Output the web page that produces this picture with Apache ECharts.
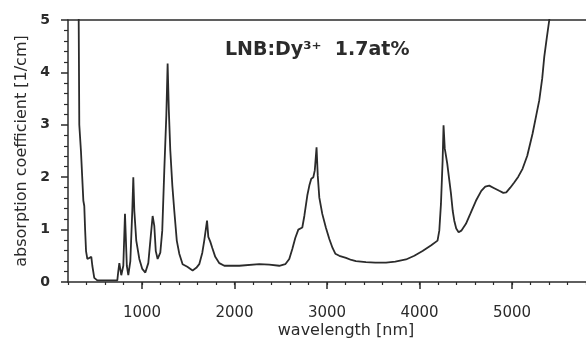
<!DOCTYPE html>
<html>
<head>
<meta charset="utf-8">
<script src="https://cdn.jsdelivr.net/npm/echarts@6/dist/echarts.min.js"></script>
<style>
    html, body { margin: 0; padding: 0; background: #fff; }
    #main { width: 586px; height: 338px; }
</style>
</head>
<body>
<div id="main"></div>
<script>
// wavelength [nm] and absorption coefficient [1/cm]
const wavelength = [
    300, 315, 322, 340, 366, 376, 385, 395, 409, 452, 463, 484, 517, 733,
    744, 755, 776, 798, 816, 836, 852, 874, 895, 906, 917, 938, 971, 1003,
    1036, 1068, 1095, 1115, 1133, 1149, 1169, 1198, 1219, 1241, 1263, 1277,
    1290, 1306, 1328, 1349, 1376, 1403, 1439, 1490, 1547, 1587, 1619, 1652,
    1673, 1703, 1717, 1738, 1760, 1792, 1836, 1890, 2052, 2268, 2376, 2484,
    2549, 2592, 2625, 2657, 2690, 2711, 2733, 2755, 2787, 2809, 2830, 2852,
    2868, 2887, 2900, 2917, 2949, 2989, 3025, 3060, 3090, 3133, 3205, 3263,
    3313, 3421, 3522, 3638, 3738, 3854, 3944, 4033, 4127, 4195, 4214, 4232,
    4250, 4260, 4273, 4286, 4300, 4316, 4340, 4359, 4376, 4397, 4423, 4452,
    4502, 4549, 4610, 4668, 4711, 4754, 4808, 4862, 4906, 4938, 4981, 5024,
    5068, 5114, 5165, 5222, 5262, 5295, 5327, 5349, 5376, 5403, 5420
];
const absorption = [
    6.0, 5.2, 3.0, 2.5, 1.55, 1.45, 1.0, 0.59, 0.44, 0.48, 0.31, 0.08, 0.03, 0.03,
    0.21, 0.36, 0.13, 0.31, 1.30, 0.31, 0.13, 0.40, 1.36, 2.0, 1.36, 0.79, 0.44, 0.25,
    0.18, 0.36, 0.88, 1.26, 1.07, 0.59, 0.44, 0.56, 0.98, 2.13, 3.18, 4.17,
    3.28, 2.51, 1.84, 1.36, 0.79, 0.54, 0.34, 0.29, 0.22, 0.27, 0.34, 0.56,
    0.79, 1.17, 0.86, 0.77, 0.65, 0.48, 0.36, 0.31, 0.31, 0.34, 0.33, 0.31,
    0.34, 0.44, 0.63, 0.84, 1.0, 1.01, 1.04, 1.26, 1.65, 1.84, 1.97, 2.0,
    2.13, 2.57, 2.03, 1.61, 1.30, 1.03, 0.82, 0.65, 0.54, 0.50, 0.46, 0.42,
    0.40, 0.38, 0.37, 0.37, 0.39, 0.43, 0.50, 0.59, 0.70, 0.79, 0.98, 1.49,
    2.32, 2.99, 2.55, 2.41, 2.26, 2.03, 1.69, 1.36, 1.17, 1.02, 0.95, 0.98,
    1.11, 1.30, 1.55, 1.74, 1.82, 1.84, 1.79, 1.74, 1.70, 1.71, 1.80, 1.90,
    2.01, 2.16, 2.41, 2.83, 3.18, 3.47, 3.89, 4.30, 4.66, 5.0, 5.3
];
// tick labels
const xLabels = [1000, 2000, 3000, 4000, 5000];
const annotation = 'LNB:Dy³⁺  1.7at%';

const ink = '#2b2b2b';
const font = 'DejaVu Sans';

let spectrum = wavelength.map((w, i) => [w, absorption[i]]);

let myChart = echarts.init(document.getElementById('main'));
let option = {
    animation: false,
    backgroundColor: '#fff',
    grid: { left: 68, right: 0, top: 20, bottom: 56, outerBoundsMode: 'none' },
    xAxis: [
        {
            // main axis: long ticks + labels at the thousands
            type: 'value', min: 200, max: 5800, position: 'bottom',
            axisLine: { lineStyle: { color: ink, width: 1.5 } },
            axisTick: { customValues: xLabels, length: 7, lineStyle: { color: ink, width: 1.5 } },
            axisLabel: {
                customValues: xLabels, margin: 24, color: ink, fontFamily: font, fontSize: 15,
                formatter: v => String(v)
            },
            splitLine: { show: false },
            name: 'wavelength [nm]',
            nameLocation: 'middle',
            nameGap: 41,
            nameMoveOverlap: false,
            nameTextStyle: { color: ink, fontFamily: font, fontSize: 16, padding: [0, 0, 0, 38] }
        },
        {
            // short ticks every 200 nm (line kept invisible)
            type: 'value', min: 200, max: 5800, interval: 200, position: 'bottom',
            axisLine: { show: true, lineStyle: { color: 'rgba(0,0,0,0)' } },
            axisTick: { show: true, length: 3, lineStyle: { color: ink, width: 1.2 } },
            axisLabel: { show: false },
            splitLine: { show: false }
        },
        {
            // top frame line
            type: 'value', min: 200, max: 5800, position: 'top',
            axisLine: { lineStyle: { color: ink, width: 1.5 } },
            axisTick: { show: false },
            axisLabel: { show: false },
            splitLine: { show: false }
        }
    ],
    yAxis: {
        type: 'value', min: 0, max: 5, interval: 1,
        axisLine: { show: true, lineStyle: { color: ink, width: 1.5 } },
        axisTick: { show: true, length: 7, lineStyle: { color: ink, width: 1.5 } },
        minorTick: { show: true, splitNumber: 5, length: 4, lineStyle: { color: ink, width: 1.2 } },
        axisLabel: { margin: 18, color: ink, fontFamily: font, fontSize: 14, fontWeight: 'bold' },
        splitLine: { show: false },
        minorSplitLine: { show: false },
        name: 'absorption coefficient [1/cm]',
        nameLocation: 'middle',
        nameGap: 38,
        nameMoveOverlap: false,
        nameTextStyle: { color: ink, fontFamily: font, fontSize: 16 }
    },
    graphic: [
        {
            type: 'text', left: 225, top: 41,
            style: { text: annotation, fill: ink, font: 'bold 19px "DejaVu Sans"' }
        }
    ],
    series: [
        {
            name: 'LNB:Dy',
            type: 'line',
            xAxisIndex: 0,
            data: spectrum,
            showSymbol: false,
            clip: true,
            lineStyle: { color: ink, width: 1.8 }
        }
    ]
};
myChart.setOption(option);
</script>
</body>
</html>
